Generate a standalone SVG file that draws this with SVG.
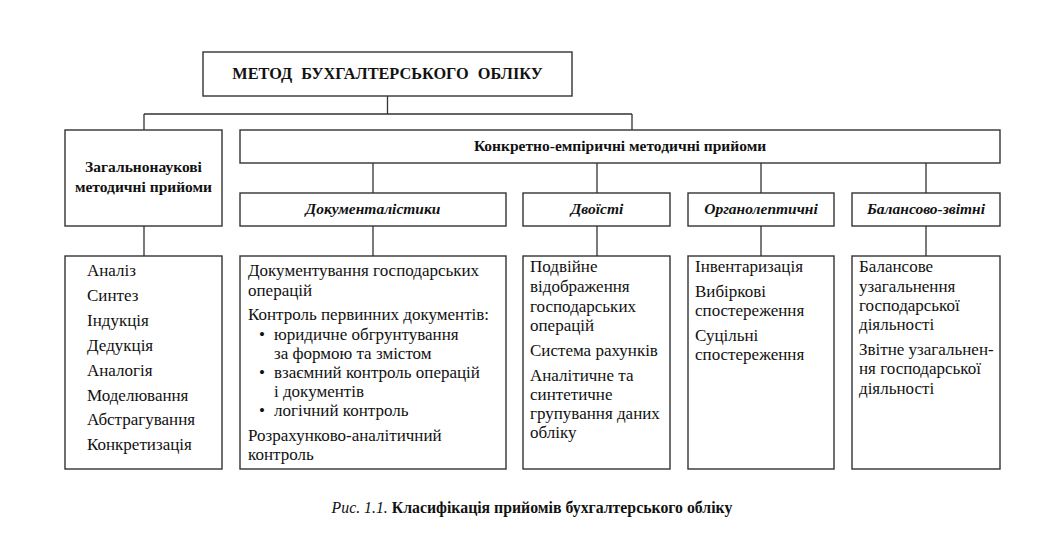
<svg xmlns="http://www.w3.org/2000/svg" width="1051" height="550" viewBox="0 0 1051 550">
<style>
.box{fill:#fff;stroke:#333;stroke-width:1.4}
.ln{fill:none;stroke:#333;stroke-width:1.3}
text{font-family:"Liberation Serif","DejaVu Serif",serif}
.t{font-size:17px;fill:#111}
.h{font-size:15.5px;font-weight:bold;fill:#111;text-anchor:middle}
.hi{font-style:italic}
</style>
<rect width="1051" height="550" fill="#fff"/>
<g id="connectors">
<path class="ln" d="M387.5,96 V114 M144,114 H632 M144,114 V130 M632,114 V130"/>
<path class="ln" d="M373,163 V193 M597,163 V193 M761,163 V193 M926,163 V193"/>
<path class="ln" d="M144,226 V256 M373,226 V256 M597,226 V256 M761,226 V256 M926,226 V256"/>
</g>
<g id="root">
<rect class="box" x="203" y="52" width="369" height="44"/>
<text class="h" x="387.5" y="79" style="font-size:16.3px;word-spacing:5px">МЕТОД БУХГАЛТЕРСЬКОГО ОБЛІКУ</text>
</g>
<g id="general">
<rect class="box" x="65" y="130" width="157" height="96"/>
<text class="h" x="143.5" y="172">Загальнонаукові</text>
<text class="h" x="143.5" y="192">методичні прийоми</text>
</g>
<g id="concrete">
<rect class="box" x="240" y="130" width="760" height="33"/>
<text class="h" x="620" y="151">Конкретно-емпіричні методичні прийоми</text>
</g>
<g id="doc">
<rect class="box" x="240" y="193" width="266" height="33"/>
<text class="h hi" x="373" y="214">Документалістики</text>
</g>
<g id="dual">
<rect class="box" x="523" y="193" width="147" height="33"/>
<text class="h hi" x="597" y="214">Двоїсті</text>
</g>
<g id="organ">
<rect class="box" x="688" y="193" width="146" height="33"/>
<text class="h hi" x="761" y="214">Органолептичні</text>
</g>
<g id="balance">
<rect class="box" x="852" y="193" width="148" height="33"/>
<text class="h hi" x="926" y="214">Балансово-звітні</text>
</g>
<g id="general-list">
<rect class="box" x="65" y="256" width="157" height="213"/>
<text class="t" x="87" y="276">Аналіз</text>
<text class="t" x="87" y="301">Синтез</text>
<text class="t" x="87" y="326">Індукція</text>
<text class="t" x="87" y="351">Дедукція</text>
<text class="t" x="87" y="376">Аналогія</text>
<text class="t" x="87" y="401">Моделювання</text>
<text class="t" x="87" y="425">Абстрагування</text>
<text class="t" x="87" y="450">Конкретизація</text>
</g>
<g id="doc-list">
<rect class="box" x="240" y="256" width="266" height="213"/>
<text class="t" x="248" y="276">Документування господарських</text>
<text class="t" x="248" y="296">операцій</text>
<text class="t" x="248" y="320">Контроль первинних документів:</text>
<text class="t" x="259" y="340">•</text>
<text class="t" x="274" y="340">юридичне обгрунтування</text>
<text class="t" x="274" y="359">за формою та змістом</text>
<text class="t" x="259" y="378">•</text>
<text class="t" x="274" y="378">взаємний контроль операцій</text>
<text class="t" x="274" y="397">і документів</text>
<text class="t" x="259" y="416">•</text>
<text class="t" x="274" y="416">логічний контроль</text>
<text class="t" x="248" y="441">Розрахунково-аналітичний</text>
<text class="t" x="248" y="460">контроль</text>
</g>
<g id="dual-list">
<rect class="box" x="523" y="256" width="147" height="213"/>
<text class="t" x="530" y="272">Подвійне</text>
<text class="t" x="530" y="292">відображення</text>
<text class="t" x="530" y="312">господарських</text>
<text class="t" x="530" y="331">операцій</text>
<text class="t" x="530" y="356">Система рахунків</text>
<text class="t" x="530" y="381">Аналітичне та</text>
<text class="t" x="530" y="400">синтетичне</text>
<text class="t" x="530" y="419">групування даних</text>
<text class="t" x="530" y="438">обліку</text>
</g>
<g id="organ-list">
<rect class="box" x="688" y="256" width="146" height="213"/>
<text class="t" x="695" y="272">Інвентаризація</text>
<text class="t" x="695" y="297">Вибіркові</text>
<text class="t" x="695" y="316">спостереження</text>
<text class="t" x="695" y="341">Суцільні</text>
<text class="t" x="695" y="360">спостереження</text>
</g>
<g id="balance-list">
<rect class="box" x="852" y="256" width="148" height="213"/>
<text class="t" x="859" y="272">Балансове</text>
<text class="t" x="859" y="292">узагальнення</text>
<text class="t" x="859" y="311">господарської</text>
<text class="t" x="859" y="330">діяльності</text>
<text class="t" x="859" y="355">Звітне узагальнен-</text>
<text class="t" x="859" y="374">ня господарської</text>
<text class="t" x="859" y="394">діяльності</text>
</g>
<g id="caption">
<text x="532" y="513" style="font-size:15.8px;fill:#111;text-anchor:middle"><tspan font-style="italic">Рис. 1.1.</tspan> <tspan font-weight="bold">Класифікація прийомів бухгалтерського обліку</tspan></text>
</g>
</svg>
